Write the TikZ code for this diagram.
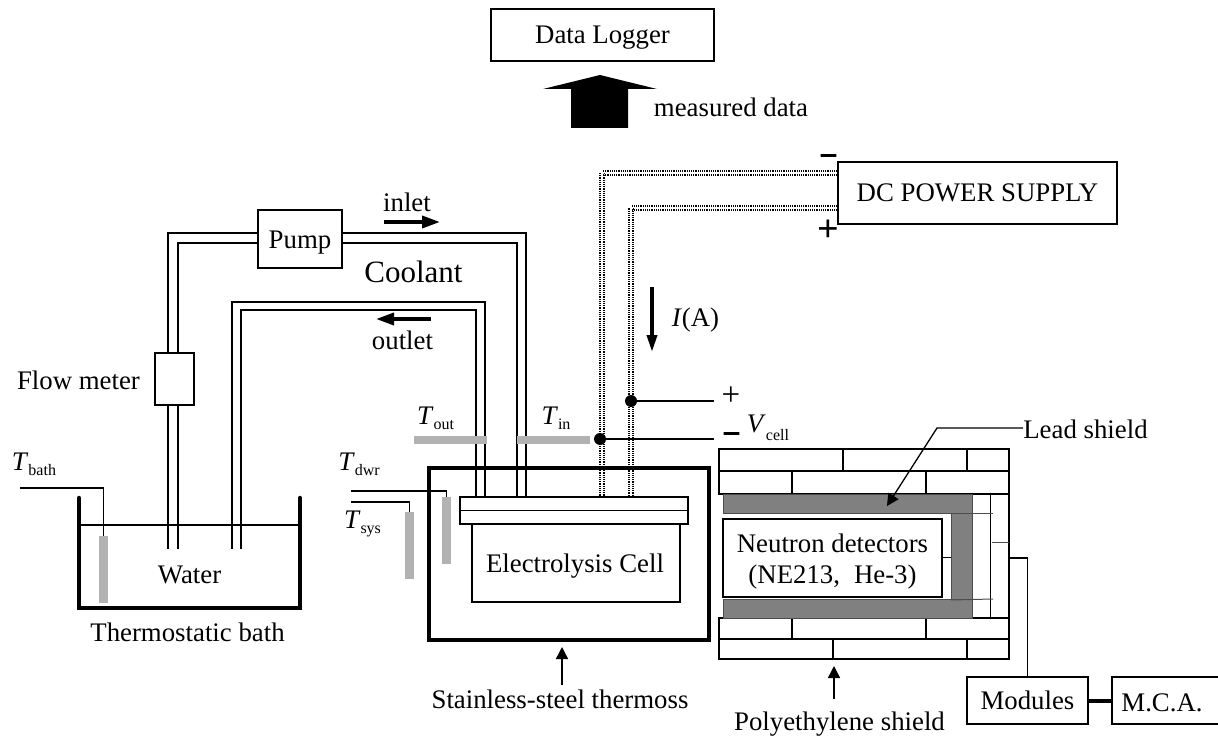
\documentclass[tikz,border=0pt]{standalone}
\usepackage{fontspec}
\setmainfont{Liberation Serif}
\newfontfamily\signfont[FakeBold=4.5]{Liberation Serif}
\usetikzlibrary{arrows.meta}
\newcommand{\tempsym}[3][T]{\textit{#1}\raisebox{-#3pt}{\fontsize{16}{16}\selectfont #2}}

\begin{document}
\begin{tikzpicture}[x=1pt, y=-1pt,
    every node/.style = {font=\fontsize{26.8}{31}\selectfont, inner sep=0pt, align=center},
    box/.style = {draw, line width=1.4pt, fill=white, text height=18pt, text depth=0pt},
    lbl/.style = {anchor=base},
    pipe/.style = {line width=1.3pt},
    wire/.style = {line width=2pt, double distance=1.1pt, dash pattern=on 1.2pt off 1pt},
    lead/.style = {rectangle, draw=black!70, line width=1pt, fill=black!50},
    probe/.style = {rectangle, fill=black!30, inner sep=0pt},
    sensor/.style = {line width=1.4pt},
    dot/.style = {circle, fill=black, minimum size=12pt},
    flowarrow/.style = {line width=3.6pt, -{Triangle[length=18pt, width=12pt]}},
    tagarrow/.style = {line width=1.4pt, -{Triangle[length=12pt, width=12pt]}},
    thin line/.style = {line width=1pt}]
    \useasboundingbox (0,0) rectangle (1218,738);

    \node[box, minimum width=223pt, minimum height=52pt] (logger) at (602.5,35) {Data Logger};
    \node[box, minimum width=279pt, minimum height=62pt] (supply) at (977.5,193) {DC POWER SUPPLY};
    \node[lbl] (measured) at (731,117) {measured data};
    \fill (600,75) -- (657,89) -- (628,89) -- (628,128) -- (571,128) -- (571,89) -- (543,89) -- cycle;

    \coordinate (negcorner) at (602,173);
    \coordinate (poscorner) at (631,208);
    \node[box, minimum width=228pt, minimum height=27pt] (lid) at (574,510.5) {};
    \draw[wire] (supply.west |- negcorner) -- (negcorner) -- (negcorner |- lid.north);
    \draw[wire] (supply.west |- poscorner) -- (poscorner) -- (poscorner |- lid.north);
    \node[lbl, font=\fontsize{28}{28}\signfont] (supplyneg) at (828.5,162) {–};
    \node[lbl, font=\fontsize{38}{38}\selectfont\bfseries] (supplypos) at (828,241) {+};

    \foreach \name/\xa/\ya/\xb in {inouter/168/233/526, ininner/178/243/517, outouter/232/302/485, outinner/241/310/476} {
      \coordinate (\name bath) at (\xa,549);
      \coordinate (\name top) at (\xb,\ya);
      \draw[pipe] (\name bath) |- (\name top) -- (\name top |- lid.north);
    }

    \node[box, minimum width=84pt, minimum height=58pt] (pump) at (300,239) {Pump};
    \node[box, minimum width=39pt, minimum height=52pt] (flow) at (174.5,379) {};
    \node[lbl] (flowlabel) at (78.5,389) {Flow meter};
    \node[lbl] (inlet) at (407,212) {inlet};
    \node[lbl] (outlet) at (402.5,349) {outlet};
    \node[lbl, font=\fontsize{31}{31}\selectfont] (coolant) at (413.5,282) {Coolant};
    \coordinate (inletstart) at (384,222);
    \coordinate (inletend) at (440,222);
    \coordinate (outletstart) at (431,319);
    \coordinate (outletend) at (376,319);
    \draw[flowarrow] (inletstart) -- (inletend);
    \draw[flowarrow] (outletstart) -- (outletend);
    \coordinate (currentstart) at (652,287);
    \coordinate (currentend) at (652,352);
    \draw[line width=3.6pt, -{Triangle[length=17pt, width=10pt]}] (currentstart) -- (currentend);
    \node[lbl] (current) at (695.5,326) {\textit{I}(A)};

    \node[dot] (plusdot) at (631,401) {};
    \node[dot] (minusdot) at (600,439) {};
    \node[lbl, font=\fontsize{33}{33}\selectfont] (vplus) at (731,405) {+};
    \node[lbl, font=\fontsize{28}{28}\signfont] (vminus) at (731.5,440) {–};
    \coordinate (plusend) at (714,401);
    \coordinate (minusend) at (714,439);
    \draw[sensor] (plusdot) -- (plusend);
    \draw[sensor] (minusdot) -- (minusend);
    \node[lbl] (vcell) at (768,432) {\tempsym[V]{cell}{8}};

    \node[probe, minimum width=73pt, minimum height=8pt] (tout) at (450.5,440) {};
    \node[probe, minimum width=73pt, minimum height=8pt] (tin) at (553.5,440) {};
    \node[lbl] (toutlabel) at (435.5,424) {\tempsym{out}{5}};
    \node[lbl] (tinlabel) at (556,424) {\tempsym{in}{5}};

    \draw[line width=4pt] (429,468) rectangle (709,640);
    \node[box, minimum width=208pt, minimum height=78pt] (cell) at (576,563) {};
    \node[box, minimum width=228pt, minimum height=27pt] (lidtop) at (574,510.5) {};
    \draw[sensor] (lidtop.west) -- (lidtop.east);
    \node[lbl] (celllabel) at (575,572) {Electrolysis Cell};
    \node[lbl] (thermoss) at (560,708) {Stainless-steel thermoss};
    \coordinate (thermosstail) at (562,685);
    \coordinate (thermosstip) at (562,647);
    \draw[tagarrow] (thermosstail) -- (thermosstip);

    \node[probe, minimum width=9pt, minimum height=67pt] (tdwr) at (446.5,530.5) {};
    \node[probe, minimum width=9pt, minimum height=67pt] (tsys) at (409.5,545.5) {};
    \node[probe, minimum width=9pt, minimum height=67pt] (tbath) at (103.5,569.5) {};
    \coordinate (tdwrend) at (351,491);
    \coordinate (tsysend) at (351,502);
    \coordinate (tbathend) at (20,488);
    \draw[sensor] (tdwrend) -| (tdwr.north);
    \draw[sensor] (tsysend) -| (tsys.north);
    \draw[sensor] (tbathend) -| (tbath.north);
    \node[lbl] (tdwrlabel) at (359,470) {\tempsym{dwr}{5}};
    \node[lbl] (tsyslabel) at (362.5,528) {\tempsym{sys}{5}};
    \node[lbl] (tbathlabel) at (34,470) {\tempsym{bath}{5}};

    \draw[line width=4.5pt, line cap=round] (79,498) |- (300,608) -- (300,498);
    \draw[sensor] (79,525) -- (300,525);
    \node[lbl] (water) at (189.5,583) {Water};
    \node[lbl] (bath) at (187.5,641) {Thermostatic bath};

    \foreach \ya/\yb/\xa/\xb in {449/471/843/967, 471/494/792/926, 618/639/792/926, 639/659/833/967} {
      \draw[box] (719,\ya) rectangle (1009,\yb);
      \draw[box] (\xa,\ya) -- (\xa,\yb) (\xb,\ya) -- (\xb,\yb);
    }
    \draw[box, fill=none] (972,494) rectangle (1009,618);
    \draw[thin line] (990,494) -- (990,618);
    \node[lead, anchor=north west, minimum width=249pt, minimum height=19pt] (leadtop) at (723,494) {};
    \node[lead, anchor=north west, minimum width=249pt, minimum height=19pt] (leadbottom) at (723,599) {};
    \node[lead, anchor=north west, minimum width=21pt, minimum height=86pt] (leadside) at (951,513) {};
    \draw[thin line, draw=black!70] (leadside.north west) -- (993,513);
    \draw[thin line, draw=black!70] (leadside.south west) -- (993,599);
    \draw[thin line, draw=black!70] (992,542) -- (1009,542);
    \node[box, line width=1.2pt, minimum width=219pt, minimum height=78pt] (detector) at (832.5,558) {};
    \draw[thin line] (detector.east |- 0,557) -- (leadside.west |- 0,557);
    \node[lbl] (detectorlabel) at (832.5,552) {Neutron detectors};
    \node[lbl] (detectortype) at (832.5,583) {(NE213,\hspace{14pt}He-3)};

    \node[lbl] (leadlabel) at (1085.5,438) {Lead shield};
    \coordinate (leadbend) at (937,428);
    \coordinate (leadtip) at (887,506);
    \draw[thin line, line width=1.3pt, -{Triangle[length=12pt, width=12pt]}] (leadlabel.west |- leadbend) -- (leadbend) -- (leadtip);
    \node[lbl] (polylabel) at (839.5,730) {Polyethylene shield};
    \coordinate (polytail) at (834,699);
    \coordinate (polytip) at (834,666);
    \draw[tagarrow] (polytail) -- (polytip);

    \node[box, minimum width=121pt, minimum height=47pt] (modules) at (1027.5,700.5) {Modules};
    \node[box, minimum width=110pt, minimum height=47pt] (mca) at (1167,700.5) {};
    \node[lbl] (mcalabel) at (1162,711) {M.C.A.};
    \coordinate (shieldout) at (1009,558);
    \draw[pipe] (shieldout) -| (modules.north);
    \draw[line width=4pt] (modules.east) -- (mca.west);
\end{tikzpicture}
\end{document}
